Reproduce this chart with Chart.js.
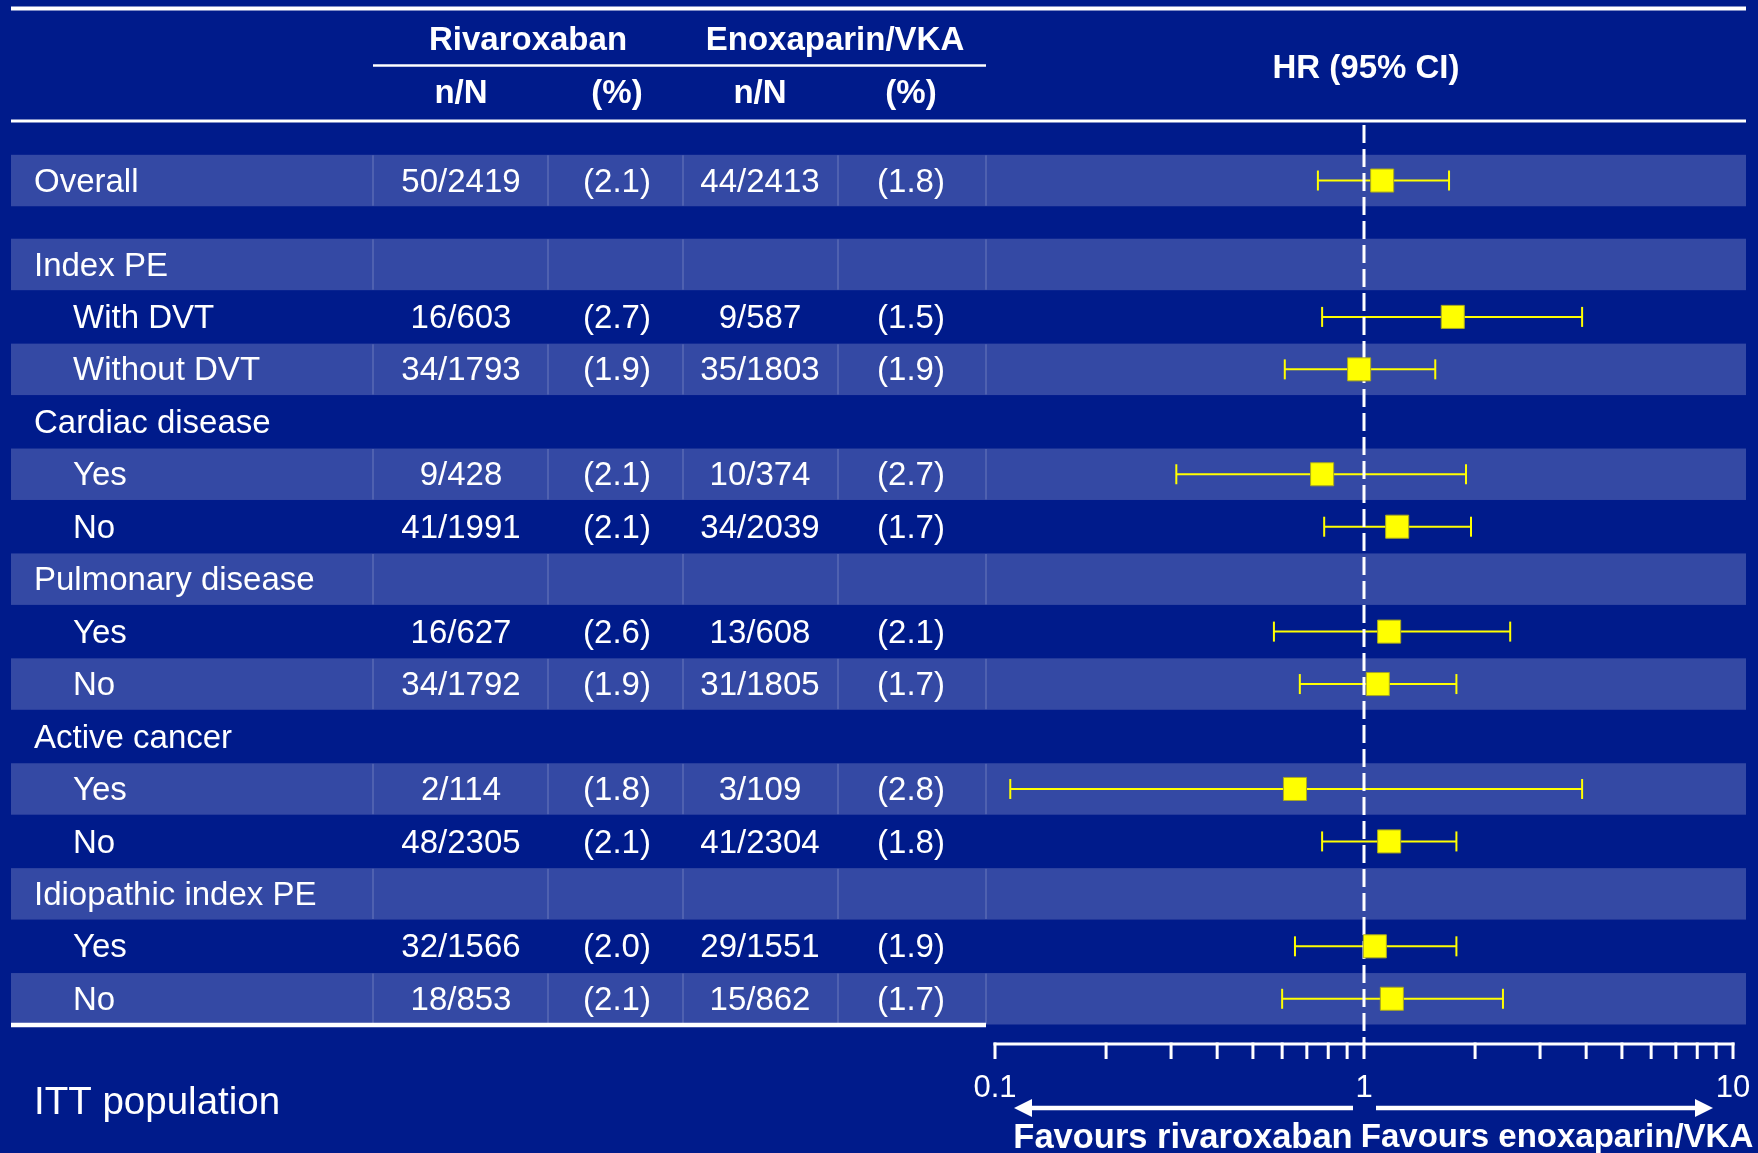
<!DOCTYPE html>
<html>
<head>
<meta charset="utf-8">
<title>EINSTEIN-PE subgroups</title>
<script src="https://cdn.jsdelivr.net/npm/chart.js@4.4.1/dist/chart.umd.min.js"></script>
<style>
  html, body { margin: 0; padding: 0; background: #001b8b; }
  canvas { display: block; }
</style>
</head>
<body>
<canvas id="forest" width="1758" height="1153"></canvas>
<script>
// subgroup rows, top to bottom
const subgroups = ['Overall', 'Index PE', 'With DVT', 'Without DVT', 'Cardiac disease', 'Yes', 'No',
    'Pulmonary disease', 'Yes', 'No', 'Active cancer', 'Yes', 'No', 'Idiopathic index PE', 'Yes', 'No'];
const indented = [false, false, true, true, false, true, true, false, true, true, false, true, true, false, true, true];

const rivaroxabanN = ['50/2419', '', '16/603', '34/1793', '', '9/428', '41/1991', '', '16/627', '34/1792', '', '2/114', '48/2305', '', '32/1566', '18/853'];
const rivaroxabanPct = ['(2.1)', '', '(2.7)', '(1.9)', '', '(2.1)', '(2.1)', '', '(2.6)', '(1.9)', '', '(1.8)', '(2.1)', '', '(2.0)', '(2.1)'];
const enoxaparinN = ['44/2413', '', '9/587', '35/1803', '', '10/374', '34/2039', '', '13/608', '31/1805', '', '3/109', '41/2304', '', '29/1551', '15/862'];
const enoxaparinPct = ['(1.8)', '', '(1.5)', '(1.9)', '', '(2.7)', '(1.7)', '', '(2.1)', '(1.7)', '', '(2.8)', '(1.8)', '', '(1.9)', '(1.7)'];

// hazard ratios and 95% CI (null = heading row)
const hr = [1.12, null, 1.74, 0.97, null, 0.77, 1.23, null, 1.17, 1.09, null, 0.65, 1.17, null, 1.07, 1.19];
const hrLow = [0.75, null, 0.77, 0.61, null, 0.31, 0.78, null, 0.57, 0.67, null, 0.11, 0.77, null, 0.65, 0.60];
const hrHigh = [1.70, null, 3.90, 1.56, null, 1.89, 1.95, null, 2.49, 1.78, null, 3.90, 1.78, null, 1.78, 2.38];

// log axis
const axisTicks = [0.1, 0.2, 0.3, 0.4, 0.5, 0.6, 0.7, 0.8, 0.9, 1, 2, 3, 4, 5, 6, 7, 8, 9, 10];
const axisLabelValues = [0.1, 1, 10];
const axisLabels = ['0.1', '1', '10'];

const FONT = '"Liberation Sans", Arial, sans-serif';
const WHITE = '#ffffff';
const YELLOW = '#ffff00';
const BAND = '#3449a4';

// Overall sits apart from the rest, so everything after it is pushed down a bit
const rowY = i => (i === 0 ? 0 : i + 0.6);
const shaded = i => i === 0 || i % 2 === 1;

function txt(ctx, s, x, y, font, align) {
    ctx.font = font;
    ctx.textAlign = align || 'center';
    ctx.textBaseline = 'middle';
    ctx.fillStyle = WHITE;
    ctx.fillText(s, x, y + 2);
}

function hline(ctx, x1, x2, y, w) {
    ctx.beginPath();
    ctx.moveTo(x1, y);
    ctx.lineTo(x2, y);
    ctx.lineWidth = w;
    ctx.strokeStyle = WHITE;
    ctx.stroke();
}

const colX = [461, 617, 760, 911];
const separators = [373, 548, 683, 838, 986];

const tablePlugin = {
    id: 'table',
    beforeDatasetsDraw(chart) {
        const ctx = chart.ctx;
        const y = chart.scales.y;
        const half = (y.getPixelForValue(1) - y.getPixelForValue(0)) / 2;
        ctx.save();
        ctx.fillStyle = '#001b8b';
        ctx.fillRect(0, 0, chart.width, chart.height);

        // row bands
        subgroups.forEach((_, i) => {
            if (!shaded(i)) return;
            const cy = y.getPixelForValue(rowY(i));
            ctx.fillStyle = BAND;
            ctx.fillRect(11, cy - half + 0.5, 1735, half * 2 - 1);
            ctx.strokeStyle = 'rgba(255,255,255,0.18)';
            ctx.lineWidth = 1.5;
            separators.forEach(sx => {
                ctx.beginPath();
                ctx.moveTo(sx, cy - half + 1);
                ctx.lineTo(sx, cy + half - 1);
                ctx.stroke();
            });
        });

        // header
        const bold = 'bold 33px ' + FONT;
        hline(ctx, 11, 1746, 8.5, 4);
        txt(ctx, 'Rivaroxaban', 528, 39, bold);
        txt(ctx, 'Enoxaparin/VKA', 835, 39, bold);
        hline(ctx, 373, 986, 65.5, 2.5);
        txt(ctx, 'n/N', colX[0], 92, bold);
        txt(ctx, '(%)', colX[1], 92, bold);
        txt(ctx, 'n/N', colX[2], 92, bold);
        txt(ctx, '(%)', colX[3], 92, bold);
        txt(ctx, 'HR (95% CI)', 1366, 67, bold);
        hline(ctx, 11, 1746, 121, 3);

        // rows
        const rowFont = '33px ' + FONT;
        subgroups.forEach((name, i) => {
            const cy = y.getPixelForValue(rowY(i));
            txt(ctx, name, indented[i] ? 73 : 34, cy, rowFont, 'left');
            txt(ctx, rivaroxabanN[i], colX[0], cy, rowFont);
            txt(ctx, rivaroxabanPct[i], colX[1], cy, rowFont);
            txt(ctx, enoxaparinN[i], colX[2], cy, rowFont);
            txt(ctx, enoxaparinPct[i], colX[3], cy, rowFont);
        });
        const last = y.getPixelForValue(rowY(subgroups.length - 1)) + half;
        hline(ctx, 11, 986, last, 4.5);
        ctx.restore();
    },
    beforeDatasetDraw(chart, args) {
        // reference line at HR = 1 goes over the CI lines but under the squares
        if (args.index !== 0) return;
        const ctx = chart.ctx;
        const x = chart.scales.x.getPixelForValue(1);
        ctx.save();
        ctx.beginPath();
        ctx.setLineDash([18, 6]);
        ctx.moveTo(x, 125);
        ctx.lineTo(x, 1044);
        ctx.lineWidth = 3;
        ctx.strokeStyle = WHITE;
        ctx.stroke();
        ctx.restore();
    },
    afterDraw(chart) {
        const ctx = chart.ctx;
        const xs = chart.scales.x;
        const axisY = 1044;
        ctx.save();
        const x0 = xs.getPixelForValue(axisTicks[0]);
        const x1 = xs.getPixelForValue(axisTicks[axisTicks.length - 1]);
        hline(ctx, x0 - 1.5, x1 + 1.5, axisY, 3);
        axisTicks.forEach(v => {
            const px = xs.getPixelForValue(v);
            ctx.beginPath();
            ctx.moveTo(px, axisY - 1.5);
            ctx.lineTo(px, axisY + 15);
            ctx.lineWidth = 3;
            ctx.strokeStyle = WHITE;
            ctx.stroke();
        });
        axisLabelValues.forEach((v, i) => {
            txt(ctx, axisLabels[i], xs.getPixelForValue(v), 1086, '31px ' + FONT);
        });

        // direction arrows
        const mid = xs.getPixelForValue(1);
        const arrowY = 1108;
        const arrow = (from, to) => {
            const dir = Math.sign(to - from);
            ctx.beginPath();
            ctx.moveTo(from, arrowY);
            ctx.lineTo(to - dir * 10, arrowY);
            ctx.lineWidth = 4.5;
            ctx.strokeStyle = WHITE;
            ctx.stroke();
            ctx.beginPath();
            ctx.moveTo(to, arrowY);
            ctx.lineTo(to - dir * 18, arrowY - 9);
            ctx.lineTo(to - dir * 18, arrowY + 9);
            ctx.closePath();
            ctx.fillStyle = WHITE;
            ctx.fill();
        };
        arrow(mid - 11, x0 + 19);
        arrow(mid + 12, x1 - 20);
        txt(ctx, 'Favours rivaroxaban', 1183, 1136, 'bold 34.5px ' + FONT);
        txt(ctx, 'Favours enoxaparin/VKA', 1557, 1136, 'bold 33px ' + FONT);

        txt(ctx, 'ITT population', 34, 1101, '38.5px ' + FONT, 'left');
        ctx.restore();
    }
};

const squares = [];
const ciSets = [];
subgroups.forEach((_, i) => {
    if (hr[i] == null) return;
    squares.push({ x: hr[i], y: rowY(i) });
    ciSets.push({
        type: 'line',
        data: [{ x: hrLow[i], y: rowY(i) }, { x: hrHigh[i], y: rowY(i) }],
        showLine: true,
        borderColor: YELLOW,
        borderWidth: 2,
        pointStyle: 'line',
        rotation: 90,
        pointRadius: 10,
        pointBorderColor: YELLOW,
        pointBorderWidth: 2,
        clip: false,
        order: 1
    });
});

new Chart(document.getElementById('forest'), {
    type: 'scatter',
    data: {
        datasets: [
            {
                data: squares,
                pointStyle: 'rect',
                pointRadius: 16.3,
                backgroundColor: YELLOW,
                borderColor: '#a8a820',
                borderWidth: 1,
                clip: false,
                order: 0
            },
            ...ciSets
        ]
    },
    options: {
        responsive: false,
        animation: false,
        layout: { padding: { left: 995, right: 25, top: 154.3, bottom: 128 } },
        scales: {
            x: { type: 'logarithmic', min: 0.1, max: 10, display: false },
            y: { type: 'linear', min: -0.5, max: 16.1, reverse: true, display: false }
        },
        plugins: {
            legend: { display: false },
            tooltip: { enabled: false }
        }
    },
    plugins: [tablePlugin]
});
</script>
</body>
</html>
